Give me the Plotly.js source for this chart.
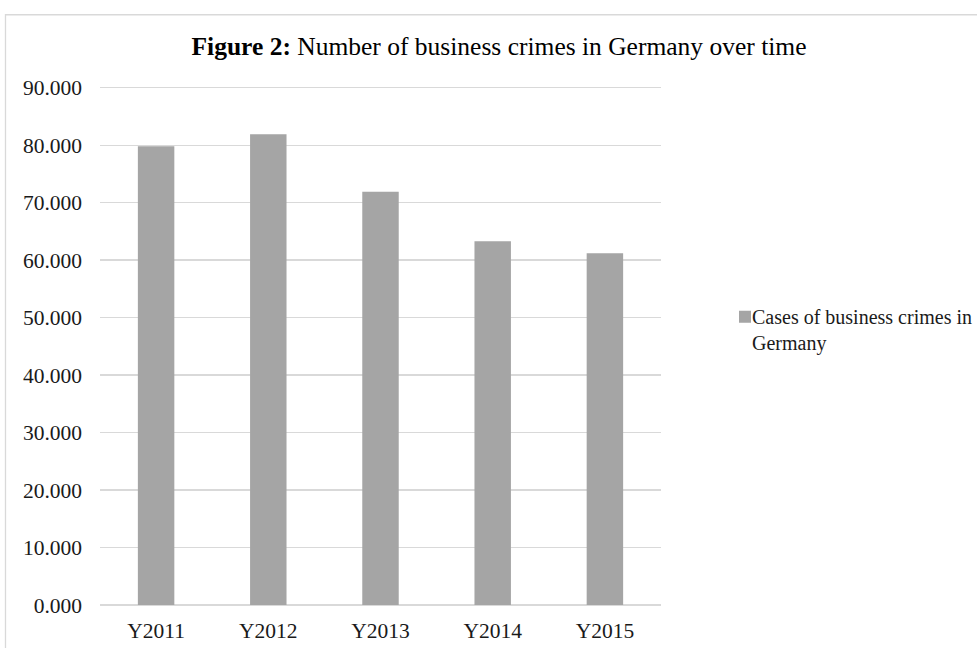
<!DOCTYPE html>
<html>
<head>
<meta charset="utf-8">
<script src="https://cdn.plot.ly/plotly-3.0.1.min.js"></script>
<style>
html,body{margin:0;padding:0;background:#fff;overflow:hidden;}
#chart{width:977px;height:648px;}
</style>
</head>
<body>
<div id="chart"></div>
<script>
var years = ["Y2011", "Y2012", "Y2013", "Y2014", "Y2015"];
var cases = [79.8, 81.9, 71.9, 63.3, 61.2];   // thousands of cases
var seriesName = "Cases of business crimes in<br>Germany";
var yTicks = [0, 10, 20, 30, 40, 50, 60, 70, 80, 90];

var W = 977, H = 648;
var yMax = 90.3;
var mL = 100, mR = W - 661, mB = H - 605;
var mT = 605 - (605 - 87.5) * yMax / 90;
var pw = W - mL - mR, ph = H - mT - mB;
function px(x){ return (x - mL) / pw; }
function py(y){ return (H - mB - y) / ph; }

var font = "Liberation Serif, Times New Roman, serif";

var data = [{
  type: "bar",
  x: years,
  y: cases,
  name: seriesName,
  marker: {color: "#a5a5a5", line: {width: 0}},
  showlegend: true,
  hoverinfo: "x+y"
}];

var layout = {
  width: W, height: H,
  margin: {l: mL, r: mR, t: mT, b: mB, pad: 0, autoexpand: false},
  paper_bgcolor: "#ffffff",
  plot_bgcolor: "#ffffff",
  bargap: 0.675,
  font: {family: font, size: 21, color: "#1a1a1a"},
  title: {
    text: "<b>Figure 2:</b> Number of business crimes in Germany over time",
    font: {family: font, size: 25.5, color: "#000000"},
    xref: "container", x: 499 / W, xanchor: "center",
    yref: "container", y: 1 - 46 / H, yanchor: "middle"
  },
  xaxis: {
    type: "category",
    showgrid: false,
    showline: false,
    zeroline: false,
    ticks: "",
    ticklabelstandoff: 10,
    tickfont: {family: font, size: 21.5, color: "#1a1a1a"}
  },
  yaxis: {
    range: [0, yMax],
    tickvals: yTicks,
    tickformat: ".3f",
    showgrid: true,
    gridcolor: "#d9d9d9",
    gridwidth: 1.3,
    zeroline: true,
    zerolinecolor: "#d9d9d9",
    zerolinewidth: 1.3,
    showline: false,
    ticks: "",
    ticklabelstandoff: 17,
    tickfont: {family: font, size: 21.5, color: "#1a1a1a"}
  },
  legend: {
    x: px(712), xanchor: "left",
    y: py(297), yanchor: "top",
    valign: "top",
    bgcolor: "rgba(0,0,0,0)",
    borderwidth: 0,
    font: {family: font, size: 20, color: "#1a1a1a"},
    itemclick: false, itemdoubleclick: false
  },
  shapes: [{
    type: "rect", xref: "paper", yref: "paper",
    x0: px(5.5), x1: px(1000), y0: py(700), y1: py(14.5),
    line: {color: "#d9d9d9", width: 1.3},
    fillcolor: "rgba(0,0,0,0)",
    layer: "below"
  }]
};

Plotly.newPlot("chart", data, layout, {displayModeBar: false, staticPlot: true}).then(function(gd){
  // place the legend swatch right next to its text, as in the reference
  var syms = gd.querySelectorAll(".legend .legendsymbols");
  syms.forEach(function(s){ s.setAttribute("transform", "translate(13,0)"); });
});
</script>
</body>
</html>
